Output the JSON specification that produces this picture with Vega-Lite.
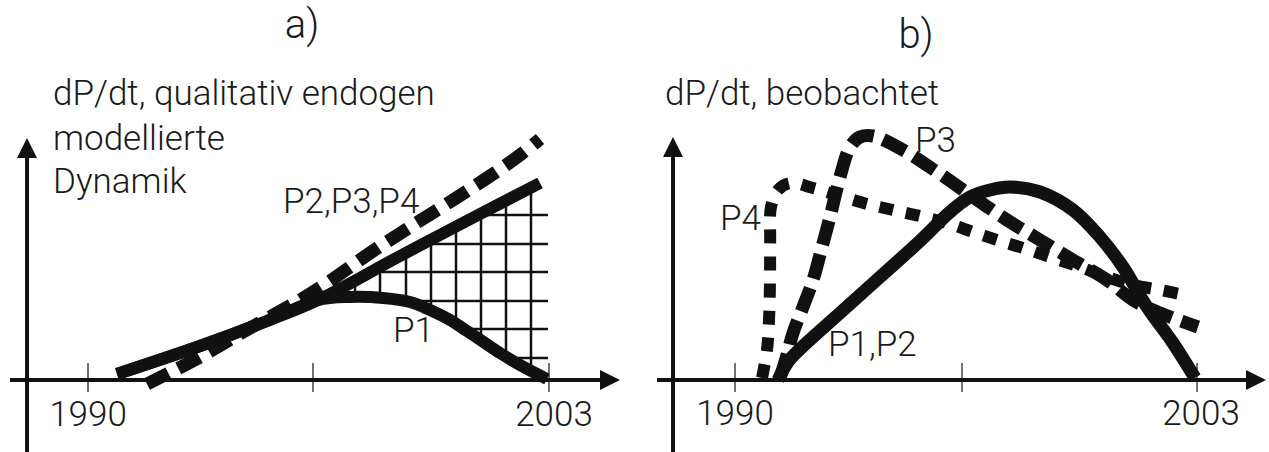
{
  "$schema": "https://vega.github.io/schema/vega-lite/v6.json",
  "padding": 0,
  "spacing": 0,
  "bounds": "flush",
  "background": "white",
  "config": {"view": {"stroke": null}, "text": {"font": "Roboto", "fontWeight": 300, "color": "#1a1a1a"}},
  "datasets": {
    "a": [
      {"kind": "line", "series": "P2", "style": "solid", "order": 0, "x": 1990.818, "y": 2.0},
      {"kind": "line", "series": "P2", "style": "solid", "order": 1, "x": 1993.158, "y": 11.33},
      {"kind": "line", "series": "P2", "style": "solid", "order": 2, "x": 1995.048, "y": 19.67},
      {"kind": "line", "series": "P2", "style": "solid", "order": 3, "x": 1996.486, "y": 26.67},
      {"kind": "line", "series": "P2", "style": "solid", "order": 4, "x": 1998.799, "y": 41.33},
      {"kind": "line", "series": "P2", "style": "solid", "order": 5, "x": 2001.055, "y": 55.33},
      {"kind": "line", "series": "P2", "style": "solid", "order": 6, "x": 2002.747, "y": 65.67},
      {"kind": "line", "series": "P1", "style": "solid", "order": 0, "x": 1990.818, "y": 2.0},
      {"kind": "line", "series": "P1", "style": "solid", "order": 1, "x": 1993.158, "y": 11.33},
      {"kind": "line", "series": "P1", "style": "solid", "order": 2, "x": 1995.048, "y": 19.67},
      {"kind": "line", "series": "P1", "style": "solid", "order": 3, "x": 1996.486, "y": 26.67},
      {"kind": "line", "series": "P1", "style": "solid", "order": 4, "x": 1997.389, "y": 27.67},
      {"kind": "line", "series": "P1", "style": "solid", "order": 5, "x": 1998.319, "y": 27.33},
      {"kind": "line", "series": "P1", "style": "solid", "order": 6, "x": 1999.081, "y": 26.0},
      {"kind": "line", "series": "P1", "style": "solid", "order": 7, "x": 1999.645, "y": 23.33},
      {"kind": "line", "series": "P1", "style": "solid", "order": 8, "x": 2000.209, "y": 20.0},
      {"kind": "line", "series": "P1", "style": "solid", "order": 9, "x": 2000.688, "y": 16.33},
      {"kind": "line", "series": "P1", "style": "solid", "order": 10, "x": 2001.196, "y": 12.33},
      {"kind": "line", "series": "P1", "style": "solid", "order": 11, "x": 2001.619, "y": 9.0},
      {"kind": "line", "series": "P1", "style": "solid", "order": 12, "x": 2002.183, "y": 5.0},
      {"kind": "line", "series": "P1", "style": "solid", "order": 13, "x": 2002.944, "y": 0.33},
      {"kind": "line", "series": "P3P4", "style": "dashed", "order": 0, "x": 1991.664, "y": -1.33},
      {"kind": "line", "series": "P3P4", "style": "dashed", "order": 1, "x": 1993.158, "y": 7.67},
      {"kind": "line", "series": "P3P4", "style": "dashed", "order": 2, "x": 1994.569, "y": 17.33},
      {"kind": "line", "series": "P3P4", "style": "dashed", "order": 3, "x": 1995.979, "y": 26.67},
      {"kind": "line", "series": "P3P4", "style": "dashed", "order": 4, "x": 1996.825, "y": 33.0},
      {"kind": "line", "series": "P3P4", "style": "dashed", "order": 5, "x": 1997.953, "y": 42.33},
      {"kind": "line", "series": "P3P4", "style": "dashed", "order": 6, "x": 1999.081, "y": 51.0},
      {"kind": "line", "series": "P3P4", "style": "dashed", "order": 7, "x": 2000.293, "y": 60.0},
      {"kind": "line", "series": "P3P4", "style": "dashed", "order": 8, "x": 2001.337, "y": 68.0},
      {"kind": "line", "series": "P3P4", "style": "dashed", "order": 9, "x": 2002.183, "y": 75.0},
      {"kind": "line", "series": "P3P4", "style": "dashed", "order": 10, "x": 2002.747, "y": 80.33},
      {"kind": "grid", "x": 1997.530, "x2": 1997.530, "y": 28.0, "y2": 33.17},
      {"kind": "grid", "x": 1998.235, "x2": 1998.235, "y": 27.67, "y2": 37.57},
      {"kind": "grid", "x": 1998.968, "x2": 1998.968, "y": 26.33, "y2": 42.13},
      {"kind": "grid", "x": 1999.673, "x2": 1999.673, "y": 23.0, "y2": 46.53},
      {"kind": "grid", "x": 2000.378, "x2": 2000.378, "y": 18.67, "y2": 50.9},
      {"kind": "grid", "x": 2001.083, "x2": 2001.083, "y": 13.33, "y2": 55.3},
      {"kind": "grid", "x": 2001.788, "x2": 2001.788, "y": 7.67, "y2": 59.7},
      {"kind": "grid", "x": 2002.493, "x2": 2002.493, "y": 3.0, "y2": 64.07},
      {"kind": "grid", "x": 2000.998, "x2": 2002.972, "y": 55.0, "y2": 55.0},
      {"kind": "grid", "x": 1999.447, "x2": 2002.972, "y": 45.33, "y2": 45.33},
      {"kind": "grid", "x": 1997.953, "x2": 2002.972, "y": 36.0, "y2": 36.0},
      {"kind": "grid", "x": 1998.799, "x2": 2002.972, "y": 26.33, "y2": 26.33},
      {"kind": "grid", "x": 2000.604, "x2": 2002.972, "y": 17.0, "y2": 17.0},
      {"kind": "grid", "x": 2001.844, "x2": 2002.972, "y": 7.33, "y2": 7.33},
      {"kind": "axis", "x": 1988.280, "x2": 1988.280, "y": -24, "y2": 74.67},
      {"kind": "axis", "x": 1987.800, "x2": 2004.552, "y": 0, "y2": 0},
      {"kind": "tick", "x": 1990, "x2": 1990, "y": 5.67, "y2": -4},
      {"kind": "tick", "x": 1996.345, "x2": 1996.345, "y": 5.67, "y2": -4},
      {"kind": "tick", "x": 2003, "x2": 2003, "y": 5.67, "y2": -4},
      {"kind": "arrow", "dir": "up", "x": 1988.280, "y": 77.33},
      {"kind": "arrow", "dir": "right", "x": 2004.721, "y": 0},
      {"kind": "title", "label": "a)", "x": 1996.035, "y": 114},
      {"kind": "ylabel", "label": "dP/dt,  qualitativ endogen", "x": 1989.013, "y": 91.67},
      {"kind": "ylabel", "label": "modellierte", "x": 1989.013, "y": 76.67},
      {"kind": "ylabel", "label": "Dynamik", "x": 1989.013, "y": 62.33},
      {"kind": "serieslabel", "label": "P2,P3,P4", "x": 1995.499, "y": 55.67},
      {"kind": "serieslabel", "label": "P1", "x": 1998.601, "y": 12.67},
      {"kind": "ticklabel", "label": "1990", "x": 1990, "y": -15.33},
      {"kind": "ticklabel", "label": "2003", "x": 2003.142, "y": -15.33}
    ],
    "b": [
      {"kind": "line", "series": "P1P2", "style": "solid", "order": 0, "x": 1991.210, "y": 0.0},
      {"kind": "line", "series": "P1P2", "style": "solid", "order": 1, "x": 1991.491, "y": 6.0},
      {"kind": "line", "series": "P1P2", "style": "solid", "order": 2, "x": 1991.829, "y": 10.33},
      {"kind": "line", "series": "P1P2", "style": "solid", "order": 3, "x": 1992.954, "y": 22.33},
      {"kind": "line", "series": "P1P2", "style": "solid", "order": 4, "x": 1994.080, "y": 34.33},
      {"kind": "line", "series": "P1P2", "style": "solid", "order": 5, "x": 1995.205, "y": 46.33},
      {"kind": "line", "series": "P1P2", "style": "solid", "order": 6, "x": 1996.049, "y": 56.0},
      {"kind": "line", "series": "P1P2", "style": "solid", "order": 7, "x": 1996.612, "y": 61.0},
      {"kind": "line", "series": "P1P2", "style": "solid", "order": 8, "x": 1997.175, "y": 63.33},
      {"kind": "line", "series": "P1P2", "style": "solid", "order": 9, "x": 1997.738, "y": 64.33},
      {"kind": "line", "series": "P1P2", "style": "solid", "order": 10, "x": 1998.582, "y": 62.67},
      {"kind": "line", "series": "P1P2", "style": "solid", "order": 11, "x": 1999.510, "y": 56.67},
      {"kind": "line", "series": "P1P2", "style": "solid", "order": 12, "x": 2000.270, "y": 47.67},
      {"kind": "line", "series": "P1P2", "style": "solid", "order": 13, "x": 2000.917, "y": 37.67},
      {"kind": "line", "series": "P1P2", "style": "solid", "order": 14, "x": 2001.592, "y": 24.33},
      {"kind": "line", "series": "P1P2", "style": "solid", "order": 15, "x": 2002.324, "y": 12.33},
      {"kind": "line", "series": "P1P2", "style": "solid", "order": 16, "x": 2002.943, "y": 0.67},
      {"kind": "line", "series": "P3", "style": "dashed", "order": 0, "x": 1991.266, "y": 0.67},
      {"kind": "line", "series": "P3", "style": "dashed", "order": 1, "x": 1991.463, "y": 8.33},
      {"kind": "line", "series": "P3", "style": "dashed", "order": 2, "x": 1991.632, "y": 15.67},
      {"kind": "line", "series": "P3", "style": "dashed", "order": 3, "x": 1991.913, "y": 24.33},
      {"kind": "line", "series": "P3", "style": "dashed", "order": 4, "x": 1992.195, "y": 33.33},
      {"kind": "line", "series": "P3", "style": "dashed", "order": 5, "x": 1992.448, "y": 44.33},
      {"kind": "line", "series": "P3", "style": "dashed", "order": 6, "x": 1992.673, "y": 54.33},
      {"kind": "line", "series": "P3", "style": "dashed", "order": 7, "x": 1992.954, "y": 67.67},
      {"kind": "line", "series": "P3", "style": "dashed", "order": 8, "x": 1993.236, "y": 77.67},
      {"kind": "line", "series": "P3", "style": "dashed", "order": 9, "x": 1993.517, "y": 81.0},
      {"kind": "line", "series": "P3", "style": "dashed", "order": 10, "x": 1993.883, "y": 81.33},
      {"kind": "line", "series": "P3", "style": "dashed", "order": 11, "x": 1994.727, "y": 76.67},
      {"kind": "line", "series": "P3", "style": "dashed", "order": 12, "x": 1995.768, "y": 68.67},
      {"kind": "line", "series": "P3", "style": "dashed", "order": 13, "x": 1996.697, "y": 61.0},
      {"kind": "line", "series": "P3", "style": "dashed", "order": 14, "x": 1997.653, "y": 53.33},
      {"kind": "line", "series": "P3", "style": "dashed", "order": 15, "x": 1998.582, "y": 46.67},
      {"kind": "line", "series": "P3", "style": "dashed", "order": 16, "x": 1999.510, "y": 40.0},
      {"kind": "line", "series": "P3", "style": "dashed", "order": 17, "x": 2000.467, "y": 33.33},
      {"kind": "line", "series": "P3", "style": "dashed", "order": 18, "x": 2001.198, "y": 26.67},
      {"kind": "line", "series": "P3", "style": "dashed", "order": 19, "x": 2001.958, "y": 22.33},
      {"kind": "line", "series": "P3", "style": "dashed", "order": 20, "x": 2003.027, "y": 17.67},
      {"kind": "line", "series": "P4", "style": "dotted", "order": 0, "x": 1990.760, "y": 0.67},
      {"kind": "line", "series": "P4", "style": "dotted", "order": 1, "x": 1990.900, "y": 10.0},
      {"kind": "line", "series": "P4", "style": "dotted", "order": 2, "x": 1990.957, "y": 20.0},
      {"kind": "line", "series": "P4", "style": "dotted", "order": 3, "x": 1990.985, "y": 33.33},
      {"kind": "line", "series": "P4", "style": "dotted", "order": 4, "x": 1990.990, "y": 46.67},
      {"kind": "line", "series": "P4", "style": "dotted", "order": 5, "x": 1991.013, "y": 57.67},
      {"kind": "line", "series": "P4", "style": "dotted", "order": 6, "x": 1991.210, "y": 63.33},
      {"kind": "line", "series": "P4", "style": "dotted", "order": 7, "x": 1991.548, "y": 65.67},
      {"kind": "line", "series": "P4", "style": "dotted", "order": 8, "x": 1992.195, "y": 64.0},
      {"kind": "line", "series": "P4", "style": "dotted", "order": 9, "x": 1992.954, "y": 61.33},
      {"kind": "line", "series": "P4", "style": "dotted", "order": 10, "x": 1993.714, "y": 58.67},
      {"kind": "line", "series": "P4", "style": "dotted", "order": 11, "x": 1994.446, "y": 56.67},
      {"kind": "line", "series": "P4", "style": "dotted", "order": 12, "x": 1995.205, "y": 54.67},
      {"kind": "line", "series": "P4", "style": "dotted", "order": 13, "x": 1995.965, "y": 52.33},
      {"kind": "line", "series": "P4", "style": "dotted", "order": 14, "x": 1996.697, "y": 49.33},
      {"kind": "line", "series": "P4", "style": "dotted", "order": 15, "x": 1997.372, "y": 46.67},
      {"kind": "line", "series": "P4", "style": "dotted", "order": 16, "x": 1998.103, "y": 44.0},
      {"kind": "line", "series": "P4", "style": "dotted", "order": 17, "x": 1998.863, "y": 41.0},
      {"kind": "line", "series": "P4", "style": "dotted", "order": 18, "x": 1999.707, "y": 37.67},
      {"kind": "line", "series": "P4", "style": "dotted", "order": 19, "x": 2000.467, "y": 34.33},
      {"kind": "line", "series": "P4", "style": "dotted", "order": 20, "x": 2001.198, "y": 31.67},
      {"kind": "line", "series": "P4", "style": "dotted", "order": 21, "x": 2001.958, "y": 30.0},
      {"kind": "line", "series": "P4", "style": "dotted", "order": 22, "x": 2002.802, "y": 28.0},
      {"kind": "axis", "x": 1988.256, "x2": 1988.256, "y": -24, "y2": 75},
      {"kind": "axis", "x": 1987.805, "x2": 2004.491, "y": 0, "y2": 0},
      {"kind": "tick", "x": 1990, "x2": 1990, "y": 5.67, "y2": -4},
      {"kind": "tick", "x": 1996.387, "x2": 1996.387, "y": 5.67, "y2": -4},
      {"kind": "tick", "x": 2003, "x2": 2003, "y": 5.67, "y2": -4},
      {"kind": "arrow", "dir": "up", "x": 1988.256, "y": 77.67},
      {"kind": "arrow", "dir": "right", "x": 2004.659, "y": 0},
      {"kind": "title", "label": "b)", "x": 1995.093, "y": 110.67},
      {"kind": "ylabel", "label": "dP/dt, beobachtet", "x": 1988.030, "y": 91.67},
      {"kind": "serieslabel", "label": "P4", "x": 1989.578, "y": 50},
      {"kind": "serieslabel", "label": "P3", "x": 1995.065, "y": 76},
      {"kind": "serieslabel", "label": "P1,P2", "x": 1992.617, "y": 8},
      {"kind": "ticklabel", "label": "1990", "x": 1990, "y": -15},
      {"kind": "ticklabel", "label": "2003", "x": 2003.112, "y": -15}
    ]
  },
  "hconcat": [
    {
      "width": 640,
      "height": 452,
      "data": {"name": "a"},
      "encoding": {
        "x": {"field": "x", "type": "quantitative", "scale": {"domain": [1987.518, 2005.567], "nice": false, "zero": false}, "axis": null},
        "y": {"field": "y", "type": "quantitative", "scale": {"domain": [-24, 126.667], "nice": false, "zero": false}, "axis": null}
      },
      "layer": [
        {"transform": [{"filter": "datum.kind == 'grid'"}], "mark": {"type": "rule", "color": "#111", "strokeWidth": 2.5, "clip": true}, "encoding": {"x2": {"field": "x2"}, "y2": {"field": "y2"}}},
        {"transform": [{"filter": "datum.kind == 'tick'"}], "mark": {"type": "rule", "color": "#444", "strokeWidth": 1.5, "clip": true}, "encoding": {"x2": {"field": "x2"}, "y2": {"field": "y2"}}},
        {"transform": [{"filter": "datum.kind == 'axis'"}], "mark": {"type": "rule", "color": "#111", "strokeWidth": 4, "clip": true}, "encoding": {"x2": {"field": "x2"}, "y2": {"field": "y2"}}},
        {"transform": [{"filter": "datum.kind == 'arrow'"}], "mark": {"type": "point", "filled": true, "color": "#111", "size": 400, "opacity": 1, "clip": true}, "encoding": {"shape": {"field": "dir", "type": "nominal", "scale": {"domain": ["up", "right"], "range": ["M-1,1L0,-1L1,1Z", "M-1,-1L1,0L-1,1Z"]}, "legend": null}}},
        {"transform": [{"filter": "datum.kind == 'line' && datum.style == 'solid'"}], "mark": {"type": "line", "color": "#111", "strokeWidth": 12, "strokeCap": "butt", "strokeJoin": "round", "interpolate": "catmull-rom", "clip": true}, "encoding": {"detail": {"field": "series"}, "order": {"field": "order", "type": "quantitative"}}},
        {"transform": [{"filter": "datum.kind == 'line' && datum.style == 'dashed'"}], "mark": {"type": "line", "color": "#111", "strokeWidth": 13, "strokeCap": "butt", "strokeDash": [24, 11], "interpolate": "catmull-rom", "clip": true}, "encoding": {"detail": {"field": "series"}, "order": {"field": "order", "type": "quantitative"}}},
        {"transform": [{"filter": "datum.kind == 'title'"}], "mark": {"type": "text", "fontSize": 40, "align": "center", "baseline": "alphabetic", "clip": true}, "encoding": {"text": {"field": "label"}}},
        {"transform": [{"filter": "datum.kind == 'ylabel'"}], "mark": {"type": "text", "fontSize": 35, "letterSpacing": 1, "align": "left", "baseline": "alphabetic", "clip": true}, "encoding": {"text": {"field": "label"}}},
        {"transform": [{"filter": "datum.kind == 'serieslabel'"}], "mark": {"type": "text", "fontSize": 35, "letterSpacing": 0.8, "align": "left", "baseline": "alphabetic", "clip": true}, "encoding": {"text": {"field": "label"}}},
        {"transform": [{"filter": "datum.kind == 'ticklabel'"}], "mark": {"type": "text", "fontSize": 35, "align": "center", "baseline": "alphabetic", "clip": true}, "encoding": {"text": {"field": "label"}}}
      ]
    },
    {
      "width": 629,
      "height": 452,
      "data": {"name": "b"},
      "encoding": {
        "x": {"field": "x", "type": "quantitative", "scale": {"domain": [1987.327, 2005.025], "nice": false, "zero": false}, "axis": null},
        "y": {"field": "y", "type": "quantitative", "scale": {"domain": [-24, 126.667], "nice": false, "zero": false}, "axis": null}
      },
      "layer": [
        {"transform": [{"filter": "datum.kind == 'tick'"}], "mark": {"type": "rule", "color": "#444", "strokeWidth": 1.5, "clip": true}, "encoding": {"x2": {"field": "x2"}, "y2": {"field": "y2"}}},
        {"transform": [{"filter": "datum.kind == 'axis'"}], "mark": {"type": "rule", "color": "#111", "strokeWidth": 4, "clip": true}, "encoding": {"x2": {"field": "x2"}, "y2": {"field": "y2"}}},
        {"transform": [{"filter": "datum.kind == 'arrow'"}], "mark": {"type": "point", "filled": true, "color": "#111", "size": 400, "opacity": 1, "clip": true}, "encoding": {"shape": {"field": "dir", "type": "nominal", "scale": {"domain": ["up", "right"], "range": ["M-1,1L0,-1L1,1Z", "M-1,-1L1,0L-1,1Z"]}, "legend": null}}},
        {"transform": [{"filter": "datum.kind == 'line' && datum.style == 'dotted'"}], "mark": {"type": "line", "color": "#111", "strokeWidth": 12, "strokeCap": "butt", "strokeDash": [14, 13], "interpolate": "catmull-rom", "clip": true}, "encoding": {"detail": {"field": "series"}, "order": {"field": "order", "type": "quantitative"}}},
        {"transform": [{"filter": "datum.kind == 'line' && datum.style == 'dashed'"}], "mark": {"type": "line", "color": "#111", "strokeWidth": 13, "strokeCap": "butt", "strokeDash": [25, 10], "interpolate": "catmull-rom", "clip": true}, "encoding": {"detail": {"field": "series"}, "order": {"field": "order", "type": "quantitative"}}},
        {"transform": [{"filter": "datum.kind == 'line' && datum.style == 'solid'"}], "mark": {"type": "line", "color": "#111", "strokeWidth": 13, "strokeCap": "butt", "strokeJoin": "round", "interpolate": "catmull-rom", "clip": true}, "encoding": {"detail": {"field": "series"}, "order": {"field": "order", "type": "quantitative"}}},
        {"transform": [{"filter": "datum.kind == 'title'"}], "mark": {"type": "text", "fontSize": 40, "align": "center", "baseline": "alphabetic", "clip": true}, "encoding": {"text": {"field": "label"}}},
        {"transform": [{"filter": "datum.kind == 'ylabel'"}], "mark": {"type": "text", "fontSize": 35, "letterSpacing": 1, "align": "left", "baseline": "alphabetic", "clip": true}, "encoding": {"text": {"field": "label"}}},
        {"transform": [{"filter": "datum.kind == 'serieslabel'"}], "mark": {"type": "text", "fontSize": 35, "letterSpacing": 0.8, "align": "left", "baseline": "alphabetic", "clip": true}, "encoding": {"text": {"field": "label"}}},
        {"transform": [{"filter": "datum.kind == 'ticklabel'"}], "mark": {"type": "text", "fontSize": 35, "align": "center", "baseline": "alphabetic", "clip": true}, "encoding": {"text": {"field": "label"}}}
      ]
    }
  ]
}
